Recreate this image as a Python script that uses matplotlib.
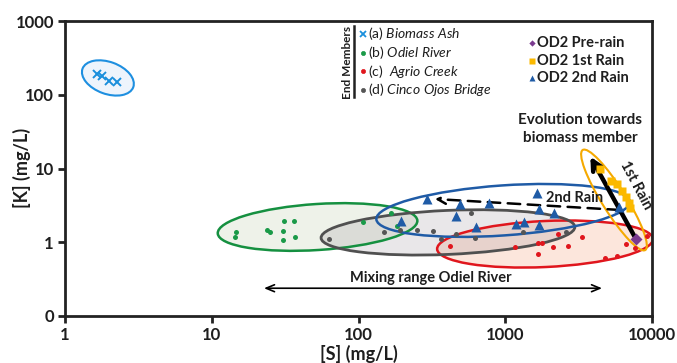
import matplotlib
matplotlib.use('Agg')
import matplotlib.pyplot as plt
from matplotlib.patches import Ellipse
from matplotlib import transforms

FONT = 'Lato'
plt.rcParams['font.family'] = [FONT, 'DejaVu Sans']
plt.rcParams['mathtext.fontset'] = 'custom'
plt.rcParams['mathtext.rm'] = FONT
plt.rcParams['mathtext.it'] = FONT + ':italic'

# ---------------- data ----------------
biomass_S = [1.65, 1.8, 2.0, 2.25]
biomass_K = [190, 180, 155, 150]
odiel_S = [14.6, 14.4, 23.9, 24.9, 31.1, 36.5, 30.7, 37.1, 30.7, 108, 166, 182]
odiel_K = [1.36, 1.19, 1.47, 1.39, 1.96, 1.92, 1.44, 1.19, 1.08, 1.90, 2.47, 1.66]
agrio_S = [420, 1166, 1663, 1780, 1663, 2126, 2300, 2677, 3318, 4820, 5746, 6650, 7620, 9250]
agrio_K = [0.89, 0.87, 0.99, 0.98, 0.70, 0.85, 1.29, 0.90, 1.19, 0.61, 0.65, 0.94, 0.84, 1.22]
cinco_S = [63, 149, 192, 250, 324, 365, 465, 580, 627, 1327, 2583]
cinco_K = [1.11, 1.38, 1.47, 1.47, 1.42, 1.11, 1.31, 2.47, 1.14, 1.36, 1.36]
rain2_S = [195, 291, 462, 492, 632, 775, 1175, 1332, 1645, 1686, 1698, 2148, 5914]
rain2_K = [1.97, 3.80, 2.27, 3.35, 1.61, 3.41, 1.77, 1.91, 4.65, 1.69, 2.82, 2.53, 3.01]
rain1_S = [4424, 5255, 5777, 6250, 6650, 6970, 7030]
rain1_K = [10.0, 6.77, 6.17, 4.96, 4.11, 3.40, 2.87]
prerain_S = [7780]
prerain_K = [1.11]

x_ticks = [1, 10, 100, 1000, 10000]
x_ticklabels = ['1', '10', '100', '1000', '10000']
y_ticks = [0.1, 1, 10, 100, 1000]
y_ticklabels = ['0', '1', '10', '100', '1000']

# colours
C_BIO = '#1a8fdc'
C_ODI = '#1a9a48'
C_AGR = '#e0161d'
C_CIN = '#555555'
C_R2 = '#1f5ba6'
C_R1 = '#fbb900'
C_PRE = '#7a3b8f'
C_TXT = '#1e1e1e'

fig = plt.figure(figsize=(6.77, 3.63), dpi=100)
ax = fig.add_axes([65/677, 1-316/363, 587/677, 295/363])
ax.set_xscale('log')
ax.set_yscale('log')
ax.set_xlim(1, 10000)
ax.set_ylim(0.1, 1000)
ax.autoscale(False)


def ellipse(xc, yc, w_px, h_px, ang, **kw):
    tr = fig.dpi_scale_trans + transforms.ScaledTranslation(xc, yc, ax.transData)
    e = Ellipse((0, 0), w_px/100, h_px/100, angle=ang, transform=tr, **kw)
    ax.add_patch(e)
    return e

# ellipse fills
ellipse(1866, 0.946, 216, 46, 2.7, facecolor='#fce6dc', edgecolor='none', zorder=1)
ellipse(52.6, 1.61, 200, 46, 3.7, facecolor='#eef2e9', edgecolor='none', zorder=1)
ellipse(1.96, 169, 54, 32, -20, facecolor='#eef4fc', edgecolor='none', zorder=1)
ellipse(407, 1.36, 254, 44, 2.5, facecolor=(0.5, 0.46, 0.5, 0.17), edgecolor='none', zorder=1.5)
# ellipse outlines
ellipse(1866, 0.946, 216, 46, 2.7, facecolor='none', edgecolor=C_AGR, lw=1.8, zorder=2)
ellipse(52.6, 1.61, 200, 46, 3.7, facecolor='none', edgecolor='#159040', lw=1.8, zorder=2)
ellipse(1.96, 169, 54, 32, -20, facecolor='none', edgecolor='#1e8fe0', lw=1.5, zorder=2)
ellipse(407, 1.36, 254, 44, 2.5, facecolor='none', edgecolor='#505050', lw=2.0, zorder=2)
ellipse(966, 2.70, 254, 50, 4.0, facecolor='none', edgecolor=C_R2, lw=1.8, zorder=2)
ellipse(5508, 3.74, 118, 24, 122, facecolor='none', edgecolor='#f5a900', lw=1.5, zorder=2)

# end member points
ax.plot(biomass_S, biomass_K, ls='none', marker='x', ms=5.5, mew=1.4, color=C_BIO, zorder=4)
ax.plot(odiel_S, odiel_K, ls='none', marker='o', ms=3.6, color=C_ODI, mec='none', zorder=4)
ax.plot(agrio_S, agrio_K, ls='none', marker='o', ms=3.6, color=C_AGR, mec='none', zorder=4)
ax.plot(cinco_S, cinco_K, ls='none', marker='o', ms=3.6, color=C_CIN, mec='none', zorder=4)

# arrows
ax.annotate('', xy=(3800, 14.5), xytext=(7600, 1.2),
            arrowprops=dict(arrowstyle='->,head_length=0.7,head_width=0.35', lw=3.2,
                            color='black', shrinkA=0, shrinkB=0), zorder=3)
ax.annotate('', xy=(332, 3.86), xytext=(6053, 2.74),
            arrowprops=dict(arrowstyle='->,head_length=0.6,head_width=0.3', lw=1.8,
                            color='black', linestyle=(0, (5, 3)), shrinkA=0, shrinkB=0), zorder=3)
ax.annotate('', xy=(22.7, 0.238), xytext=(4565, 0.238),
            arrowprops=dict(arrowstyle='<->,head_length=0.6,head_width=0.25', lw=1.2,
                            color='black', shrinkA=0, shrinkB=0), zorder=3)

# OD2 points
ax.plot(rain2_S, rain2_K, ls='none', marker='^', ms=6.5, color=C_R2, mec='none', zorder=5)
ax.plot(rain1_S, rain1_K, ls='none', marker='s', ms=6, color=C_R1, mec='none', zorder=5)
ax.plot(prerain_S, prerain_K, ls='none', marker='D', ms=6.5, color=C_PRE, mec='none', zorder=6)

# axes styling
ax.set_xticks(x_ticks)
ax.set_xticklabels(x_ticklabels)
ax.set_yticks(y_ticks)
ax.set_yticklabels(y_ticklabels)
ax.minorticks_off()
for s in ax.spines.values():
    s.set_linewidth(2)
    s.set_color('#222222')
ax.tick_params(axis='both', which='major', direction='out', length=5, width=2,
               color='#222222', pad=3, labelsize=12, labelcolor=C_TXT)
for lab in ax.get_xticklabels() + ax.get_yticklabels():
    lab.set_fontweight('bold')
ax.set_xlabel('[S] (mg/L)', fontsize=13, fontweight='bold', color=C_TXT, labelpad=1)
fig.text(22/677, 1-168/363, '[K] (mg/L)', rotation=90, fontsize=13, fontweight='bold',
         color=C_TXT, ha='center', va='center')

# end member legend
def ax_xy(px, py):
    return ((px - 65) / 587, (316 - py) / 295)

em_labels = [r'(a) $\mathit{Biomass\ Ash}$', r'(b) $\mathit{Odiel\ River}$',
             r'(c)  $\mathit{Agrio\ Creek}$', r'(d) $\mathit{Cinco\ Ojos\ Bridge}$']
em_markers = [('x', C_BIO, 4, 1.3), ('o', C_ODI, 3, 0), ('o', C_AGR, 3, 0), ('o', C_CIN, 3, 0)]
em_y = [34, 52.5, 71, 89.5]
for lab, (mk, col, ms, mew), py in zip(em_labels, em_markers, em_y):
    mx, my = ax_xy(363, py)
    ax.plot([mx], [my], marker=mk, ms=ms, mew=mew if mew else 0.5, color=col,
            transform=ax.transAxes, clip_on=False, zorder=6)
    tx, ty = ax_xy(368, py)
    ax.text(tx, ty, lab, transform=ax.transAxes, fontsize=10, color=C_TXT,
            ha='left', va='center')
lx, ly0 = ax_xy(354, 26)
_, ly1 = ax_xy(354, 97)
ax.plot([lx, lx], [ly0, ly1], color='#222222', lw=1.8, transform=ax.transAxes, clip_on=False)
tx, ty = ax_xy(347.5, 62)
ax.text(tx, ty, 'End Members', rotation=90, transform=ax.transAxes, fontsize=8.5,
        fontweight='bold', color=C_TXT, ha='center', va='center')

# OD2 legend
od_labels = ['OD2 Pre-rain', 'OD2 1st Rain', 'OD2 2nd Rain']
od_markers = [('D', C_PRE, 3.2), ('s', C_R1, 4.5), ('^', C_R2, 4.2)]
od_y = [43, 61, 78]
for lab, (mk, col, ms), py in zip(od_labels, od_markers, od_y):
    mx, my = ax_xy(532, py)
    ax.plot([mx], [my], marker=mk, ms=ms, color=col, mec='none',
            transform=ax.transAxes, clip_on=False, zorder=6)
    tx, ty = ax_xy(537, py)
    ax.text(tx, ty, lab, transform=ax.transAxes, fontsize=10.5, fontweight='bold',
            color=C_TXT, ha='left', va='center')

# annotations
tx, ty = ax_xy(580, 129)
ax.text(tx, ty, 'Evolution towards\nbiomass member', transform=ax.transAxes,
        fontsize=11, fontweight='bold', color=C_TXT, ha='center', va='center',
        linespacing=1.3)
tx, ty = ax_xy(575, 198)
ax.text(tx, ty, '2nd Rain', transform=ax.transAxes, fontsize=10.5, fontweight='bold',
        color=C_TXT, ha='center', va='center', zorder=7)
tx, ty = ax_xy(636, 185)
ax.text(tx, ty, '1st Rain', transform=ax.transAxes, fontsize=10.5, fontweight='bold',
        color=C_TXT, ha='center', va='center', rotation=-62, rotation_mode='anchor', zorder=7)
tx, ty = ax_xy(431, 278)
ax.text(tx, ty, 'Mixing range Odiel River', transform=ax.transAxes, fontsize=10.5,
        fontweight='bold', color=C_TXT, ha='center', va='center')

fig.savefig('out.png', dpi=100)
